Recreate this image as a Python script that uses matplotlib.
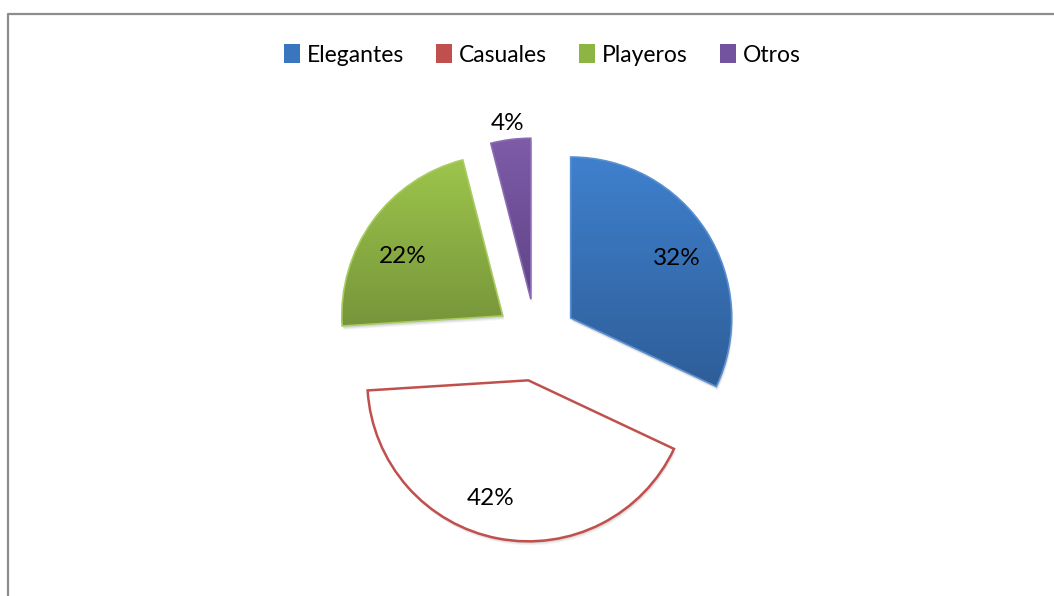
import numpy as np
import matplotlib.pyplot as plt
from matplotlib.patches import Patch, PathPatch
from matplotlib.transforms import Affine2D
from matplotlib.colors import LinearSegmentedColormap

categorias = ['Elegantes', 'Casuales', 'Playeros', 'Otros']
porcentajes = [32, 42, 22, 4]
colores_arriba = ['#3F80CD', '#FFFFFF', '#9DC54C', '#7E5CA8']
colores_abajo = ['#2E5E99', '#FFFFFF', '#77953A', '#5F4386']
bordes = ['#5A8FD0', '#C0504D', '#A8CC60', '#8B6BB3']
leyenda_col = ['#3A76BE', '#C0504D', '#8DB543', '#7352A0']

plt.rcParams['font.family'] = ['Lato', 'DejaVu Sans']

fig = plt.figure(figsize=(10.54, 5.96), dpi=100)
ax = fig.add_axes([0, 0, 1, 1])

# marco gris (solo arriba e izquierda se ven)
ax.plot([7.5, 7.5, 1054], [0, 582.5, 582.5], color='#8C8C8C', lw=1.6,
        solid_capstyle='butt', zorder=1)

radio = 161
wedges, nombres, textos = ax.pie(porcentajes, explode=[0.255 * radio] * 4, startangle=90,
                                 counterclock=False, center=(536, 256), radius=radio,
                                 autopct='%d%%', pctdistance=0.75,
                                 textprops={'fontsize': 17.5, 'color': 'black'},
                                 wedgeprops={'linewidth': 1.2}, frame=True)
ax.set_xlim(0, 1054)
ax.set_ylim(0, 596)
ax.set_aspect('equal')
ax.axis('off')

for i, w in enumerate(wedges):
    w.set_edgecolor(bordes[i])
    w.set_facecolor('none')
    w.set_zorder(4)
    if i == 1:
        w.set_facecolor('white')
        w.set_linewidth(1.8)
        continue
    # relleno con degradado vertical
    verts = w.get_path().vertices
    x0, y0 = verts.min(axis=0)
    x1, y1 = verts.max(axis=0)
    cmap = LinearSegmentedColormap.from_list('g%d' % i, [colores_abajo[i], colores_arriba[i]])
    grad = np.linspace(0, 1, 256).reshape(-1, 1)
    im = ax.imshow(grad, cmap=cmap, extent=[x0, x1, y0, y1], origin='lower',
                   aspect='auto', zorder=3)
    im.set_clip_path(w)

# sombra suave
for w in wedges:
    for k, a in [(4, 0.04), (3, 0.05), (2, 0.07)]:
        s = PathPatch(w.get_path(), transform=Affine2D().translate(k * 0.4, -k) + ax.transData,
                      facecolor='black', edgecolor='none', alpha=a, zorder=2)
        ax.add_patch(s)

# pequeños ajustes de las etiquetas como en Excel
ajustes = [(4, -5), (-15, 0), (-2, -12), (0, 0)]
for t, (dx, dy) in zip(textos, ajustes):
    x, y = t.get_position()
    t.set_position((x + dx, y + dy))
    t.set_zorder(6)

# etiqueta de Otros fuera de la porcion
textos[3].set_position((508, 596 - 124))

handles = [Patch(facecolor=c, edgecolor='none') for c in leyenda_col]
fig.legend(handles, categorias, loc='center', bbox_to_anchor=(542 / 1054, 1 - 55 / 596),
           ncol=4, frameon=False, fontsize=16.5, handlelength=0.7, handleheight=0.9,
           handletextpad=0.3, columnspacing=1.4)

plt.savefig('out.png', dpi=100)
